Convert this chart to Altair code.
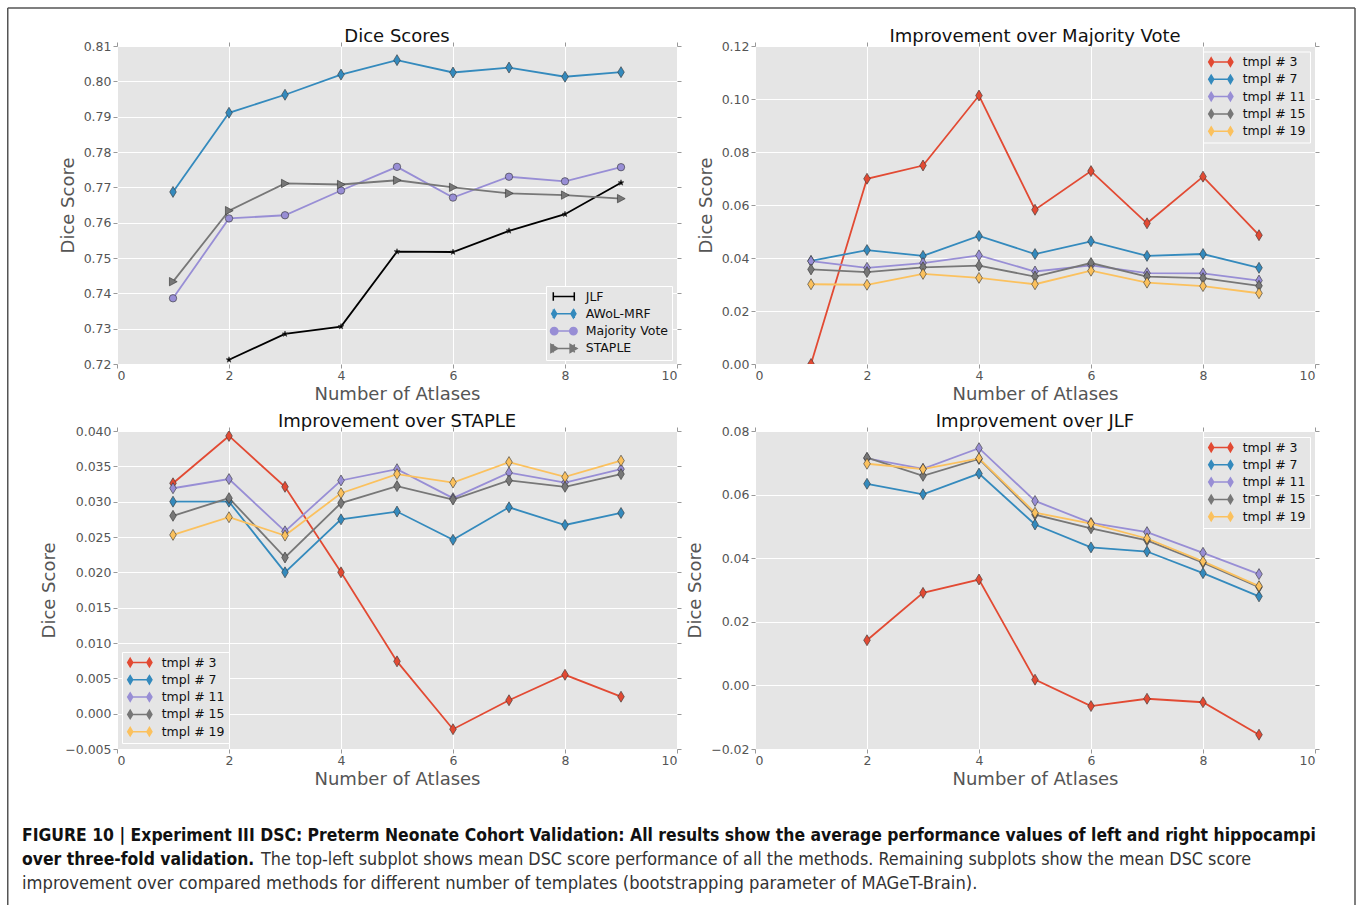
import altair as alt
import pandas as pd

# ---------------- data ----------------
ATLASES = [1, 2, 3, 4, 5, 6, 7, 8, 9]
ATLASES_JLF = [2, 3, 4, 5, 6, 7, 8, 9]

DICE_SERIES = ["JLF", "AWoL-MRF", "Majority Vote", "STAPLE"]
DICE_JLF = [0.7212, 0.7285, 0.7306, 0.7518, 0.7517, 0.7577, 0.7624, 0.7713]
DICE_AWOL = [0.7687, 0.7911, 0.7962, 0.8019, 0.8060, 0.8025, 0.8039, 0.8013, 0.8026]
DICE_MV = [0.7386, 0.7612, 0.7621, 0.7691, 0.7758, 0.7671, 0.7730, 0.7717, 0.7757]
DICE_STAPLE = [0.7433, 0.7634, 0.7711, 0.7708, 0.7720, 0.7700, 0.7683, 0.7678, 0.7668]

TMPL_SERIES = ["tmpl # 3", "tmpl # 7", "tmpl # 11", "tmpl # 15", "tmpl # 19"]

MV_T3 = [0.0000, 0.0699, 0.0749, 0.1013, 0.0582, 0.0728, 0.0531, 0.0707, 0.0486]
MV_T7 = [0.0389, 0.0430, 0.0408, 0.0483, 0.0415, 0.0463, 0.0408, 0.0415, 0.0363]
MV_T11 = [0.0388, 0.0363, 0.0381, 0.0410, 0.0349, 0.0372, 0.0343, 0.0342, 0.0315]
MV_T15 = [0.0357, 0.0347, 0.0365, 0.0371, 0.0330, 0.0381, 0.0330, 0.0324, 0.0295]
MV_T19 = [0.0301, 0.0299, 0.0340, 0.0325, 0.0301, 0.0352, 0.0307, 0.0294, 0.0267]

ST_T3 = [0.0326, 0.0393, 0.0321, 0.0200, 0.0074, -0.0022, 0.0019, 0.0055, 0.0024]
ST_T7 = [0.0300, 0.0300, 0.0200, 0.0275, 0.0286, 0.0246, 0.0292, 0.0267, 0.0284]
ST_T11 = [0.0319, 0.0332, 0.0258, 0.0330, 0.0346, 0.0305, 0.0341, 0.0327, 0.0346]
ST_T15 = [0.0280, 0.0305, 0.0221, 0.0298, 0.0322, 0.0303, 0.0330, 0.0321, 0.0339]
ST_T19 = [0.0253, 0.0278, 0.0252, 0.0312, 0.0339, 0.0327, 0.0356, 0.0335, 0.0358]

JLF_T3 = [0.0142, 0.0291, 0.0333, 0.0018, -0.0065, -0.0042, -0.0053, -0.0155]
JLF_T7 = [0.0634, 0.0601, 0.0666, 0.0506, 0.0434, 0.0421, 0.0353, 0.0280]
JLF_T11 = [0.0714, 0.0681, 0.0746, 0.0580, 0.0511, 0.0482, 0.0417, 0.0350]
JLF_T15 = [0.0716, 0.0659, 0.0712, 0.0537, 0.0494, 0.0456, 0.0386, 0.0309]
JLF_T19 = [0.0697, 0.0680, 0.0714, 0.0543, 0.0509, 0.0462, 0.0390, 0.0312]

X_TICKS = [0, 2, 4, 6, 8, 10]
Y_TICKS_DICE = [0.72, 0.73, 0.74, 0.75, 0.76, 0.77, 0.78, 0.79, 0.80, 0.81]
Y_TICKS_MV = [0.00, 0.02, 0.04, 0.06, 0.08, 0.10, 0.12]
Y_TICKS_ST = [-0.005, 0.000, 0.005, 0.010, 0.015, 0.020, 0.025, 0.030, 0.035, 0.040]
Y_TICKS_JLF = [-0.02, 0.00, 0.02, 0.04, 0.06, 0.08]

TITLES = ["Dice Scores", "Improvement over Majority Vote",
          "Improvement over STAPLE", "Improvement over JLF"]
X_TITLE = "Number of Atlases"
Y_TITLE = "Dice Score"

CAPTION_BOLD_1 = ("FIGURE 10 | Experiment III DSC: Preterm Neonate Cohort Validation: All results "
                  "show the average performance values of left and right hippocampi")
CAPTION_BOLD_2 = "over three-fold validation."
CAPTION_REG_2 = ("The top-left subplot shows mean DSC score performance of all the methods. "
                 "Remaining subplots show the mean DSC score")
CAPTION_REG_3 = ("improvement over compared methods for different number of templates "
                 "(bootstrapping parameter of MAGeT-Brain).")

# ---------------- styles ----------------
RED, BLUE, PURPLE, GRAY, YELLOW = "#E24A33", "#348ABD", "#988ED5", "#777777", "#FBC15E"
DICE_COLORS = ["#000000", BLUE, PURPLE, GRAY]
TMPL_COLORS = [RED, BLUE, PURPLE, GRAY, YELLOW]

STAR = ("M0,-1L0.235,-0.324L0.951,-0.309L0.380,0.124L0.588,0.809L0,0.4L-0.588,0.809"
        "L-0.380,0.124L-0.951,-0.309L-0.235,-0.324Z")
THIN_DIAMOND = "M0,-1L0.6,0L0,1L-0.6,0Z"
TRI_RIGHT = "M-0.85,-1L1,0L-0.85,1Z"
DICE_SHAPES = [STAR, THIN_DIAMOND, "circle", TRI_RIGHT]
DICE_SIZES = [36, 121, 55, 70]
TMPL_SHAPES = [THIN_DIAMOND] * 5
TMPL_SIZES = [121] * 5

LINE = "M-1.85,0L1.85,0"
CAPS = "M-1.75,-0.7L-1.75,0.7M1.75,-0.7L1.75,0.7"


def dia(c):
    return f"M{c},-0.7L{c + 0.42},0L{c},0.7L{c - 0.42},0Z"


def circ(c):
    r = 0.62
    return f"M{c + r},0A{r},{r} 0 1,1 {c - r},0A{r},{r} 0 1,1 {c + r},0Z"


def tri(c):
    return f"M{c - 0.55},-0.68L{c + 0.6},0L{c - 0.55},0.68Z"


G_DIA = LINE + dia(-1.6) + dia(1.6)
DICE_GLYPHS = [LINE + CAPS, LINE + CAPS + dia(-1.6) + dia(1.6),
               LINE + CAPS + circ(-1.6) + circ(1.6), LINE + CAPS + tri(-1.6) + tri(1.6)]
TMPL_GLYPHS = [G_DIA] * 5

FONT = "DejaVu Sans"
CAP_FONT = "DejaVu Sans Condensed"
BG = "#E5E5E5"


def long_df(xs_list, series, values_list):
    rows = []
    for s, xs, vals in zip(series, xs_list, values_list):
        for x, v in zip(xs, vals):
            rows.append({"atlases": x, "value": v, "series": s})
    return pd.DataFrame(rows)


def make_legend(pos):
    return alt.Legend(
        title=None, orient="none", legendX=pos[0], legendY=pos[1], padding=3.5,
        fillColor=BG, strokeColor="#FFFFFF", symbolSize=144, symbolStrokeWidth=1.5,
        symbolFillColor="#000000", symbolStrokeColor="#000000",
        symbolOffset=7.3, symbolOpacity=1, labelOffset=14.9, rowPadding=1.3,
        labelFont=FONT, labelFontSize=12.5, labelColor="#111111",
    )


def panel(df, names, colors, shapes, sizes, glyphs, title, ydomain, yticks, yfmt,
          legend_pos, height, extra=(), title_mark=False):
    xs = alt.Scale(domain=[0, 10], nice=False, zero=False)
    ys = alt.Scale(domain=ydomain, nice=False, zero=False)
    x_axis = alt.Axis(values=X_TICKS, title=X_TITLE, format="d", grid=True, gridColor="white",
                      gridWidth=1, domain=False, ticks=True, tickSize=4, tickColor="#999999",
                      labelFont=FONT, labelFontSize=12.5, labelColor="#555555", labelPadding=1,
                      titleFont=FONT, titleFontSize=18, titleFontWeight="normal",
                      titleColor="#555555", titlePadding=4)
    y_axis = alt.Axis(values=yticks, title=Y_TITLE, format=yfmt, grid=True, gridColor="white",
                      gridWidth=1, domain=False, ticks=True, tickSize=4, tickColor="#999999",
                      labelFont=FONT, labelFontSize=12.5, labelColor="#555555", labelPadding=2,
                      titleFont=FONT, titleFontSize=18, titleFontWeight="normal",
                      titleColor="#555555", titlePadding=6)
    top_axis = alt.Axis(orient="top", values=X_TICKS, labels=False, title=None, grid=False,
                        domain=False, ticks=True, tickSize=4, tickColor="#999999")
    right_axis = alt.Axis(orient="right", values=yticks, labels=False, title=None, grid=False,
                          domain=False, ticks=True, tickSize=4, tickColor="#999999")
    legend = make_legend(legend_pos)
    base = alt.Chart(df)
    X_ = alt.X("atlases:Q", scale=xs, axis=None)
    Y_ = alt.Y("value:Q", scale=ys, axis=None)
    # lines: the stroke scale carries the legend
    lines = base.mark_line(strokeWidth=1.8, clip=True).encode(
        x=alt.X("atlases:Q", scale=xs, axis=x_axis),
        y=alt.Y("value:Q", scale=ys, axis=y_axis),
        stroke=alt.Stroke("series:N", scale=alt.Scale(domain=names, range=colors),
                          legend=legend),
    )
    layers = [lines]
    # markers, one layer per series
    for n, c, shp, sz in zip(names, colors, shapes, sizes):
        layers.append(base.transform_filter(alt.datum.series == n).mark_point(
            shape=shp, size=sz, filled=True, fill=c, opacity=1, stroke="#333333",
            strokeWidth=0.6, clip=True).encode(x=X_, y=Y_))
    # legend glyphs (fill + shape scales merged into the same legend)
    layers.append(base.mark_point(opacity=0).encode(
        x=X_, y=Y_,
        fill=alt.Fill("series:N", scale=alt.Scale(domain=names, range=colors), legend=legend),
        shape=alt.Shape("series:N", scale=alt.Scale(domain=names, range=glyphs),
                        legend=legend),
    ))
    # top / right tick marks
    layers.append(base.mark_point(opacity=0).encode(
        x=alt.X("atlases:Q", scale=xs, axis=top_axis),
        y=alt.Y("value:Q", scale=ys, axis=right_axis),
    ))
    props = dict(width=560, height=height, view=alt.ViewBackground(fill=BG, stroke=None))
    if title_mark:
        layers.append(alt.Chart(pd.DataFrame({"k": [0]})).mark_text(
            text=title, font=FONT, fontSize=18, align="center", baseline="alphabetic",
            color="#111111").encode(x=alt.value(280), y=alt.value(-4)))
    else:
        props["title"] = alt.TitleParams(text=title, font=FONT, fontSize=18,
                                         fontWeight="normal", color="#111111",
                                         anchor="middle", frame="group", offset=-20,
                                         baseline="alphabetic")
    layers += list(extra)
    return alt.layer(*layers).resolve_axis(
        x="independent", y="independent"
    ).properties(**props)


# ---------------- caption + frame (drawn relative to the lower-left panel) ----------------
one = pd.DataFrame({"k": [0]})
capbase = alt.Chart(one)
cap_b1 = capbase.mark_text(text=CAPTION_BOLD_1, font=CAP_FONT, fontWeight="bold",
                           fontSize=17.4, align="left", baseline="alphabetic",
                           color="#111111").encode(x=alt.value(-95), y=alt.value(410))
cap_b2 = capbase.mark_text(text=CAPTION_BOLD_2, font=CAP_FONT, fontWeight="bold",
                           fontSize=17.4, align="left", baseline="alphabetic",
                           color="#111111").encode(x=alt.value(-95), y=alt.value(434))
cap_r2 = capbase.mark_text(text=CAPTION_REG_2, font=CAP_FONT, fontWeight="normal",
                           fontSize=17.8, align="left", baseline="alphabetic",
                           color="#333333").encode(x=alt.value(144), y=alt.value(434))
cap_r3 = capbase.mark_text(text=CAPTION_REG_3, font=CAP_FONT, fontWeight="normal",
                           fontSize=18.2, align="left", baseline="alphabetic",
                           color="#333333").encode(x=alt.value(-95), y=alt.value(458))
frame_l = capbase.mark_rule(color="#555555", strokeWidth=1.5).encode(
    x=alt.value(-109.25), y=alt.value(-423), y2=alt.value(474))
frame_t = capbase.mark_rule(color="#555555", strokeWidth=1.5).encode(
    x=alt.value(-109.25), x2=alt.value(1238), y=alt.value(-423))
frame_r = capbase.mark_rule(color="#555555", strokeWidth=1.5).encode(
    x=alt.value(1238), y=alt.value(-423), y2=alt.value(474))
EXTRA = [cap_b1, cap_b2, cap_r2, cap_r3, frame_l, frame_t, frame_r]

df1 = long_df([ATLASES_JLF, ATLASES, ATLASES, ATLASES], DICE_SERIES,
              [DICE_JLF, DICE_AWOL, DICE_MV, DICE_STAPLE])
df2 = long_df([ATLASES] * 5, TMPL_SERIES, [MV_T3, MV_T7, MV_T11, MV_T15, MV_T19])
df3 = long_df([ATLASES] * 5, TMPL_SERIES, [ST_T3, ST_T7, ST_T11, ST_T15, ST_T19])
df4 = long_df([ATLASES_JLF] * 5, TMPL_SERIES, [JLF_T3, JLF_T7, JLF_T11, JLF_T15, JLF_T19])

p1 = panel(df1, DICE_SERIES, DICE_COLORS, DICE_SHAPES, DICE_SIZES, DICE_GLYPHS, TITLES[0],
           [0.72, 0.81], Y_TICKS_DICE, ".2f", (429, 240), 318)
p2 = panel(df2, TMPL_SERIES, TMPL_COLORS, TMPL_SHAPES, TMPL_SIZES, TMPL_GLYPHS, TITLES[1],
           [0.0, 0.12], Y_TICKS_MV, ".2f", (448, 5.5), 318)
p3 = panel(df3, TMPL_SERIES, TMPL_COLORS, TMPL_SHAPES, TMPL_SIZES, TMPL_GLYPHS, TITLES[2],
           [-0.005, 0.040], Y_TICKS_ST, ".3f", (5, 221), 318, extra=EXTRA, title_mark=True)
p4 = panel(df4, TMPL_SERIES, TMPL_COLORS, TMPL_SHAPES, TMPL_SIZES, TMPL_GLYPHS, TITLES[3],
           [-0.02, 0.08], Y_TICKS_JLF, ".2f", (448, 6), 318)

IND = dict(color="independent", fill="independent", stroke="independent",
           shape="independent")
INDL = dict(fill="independent", stroke="independent", shape="independent")

chart = alt.concat(p1, p2, p3, p4, columns=2, spacing={"row": 67, "column": 78},
                   bounds="flush").resolve_scale(**IND).resolve_legend(**INDL).properties(
    padding={"left": 7, "top": 7, "right": 0, "bottom": 0},
    background="white",
).configure_view(stroke=None)

chart.save("out.html", embed_options={"renderer": "svg", "actions": False})
